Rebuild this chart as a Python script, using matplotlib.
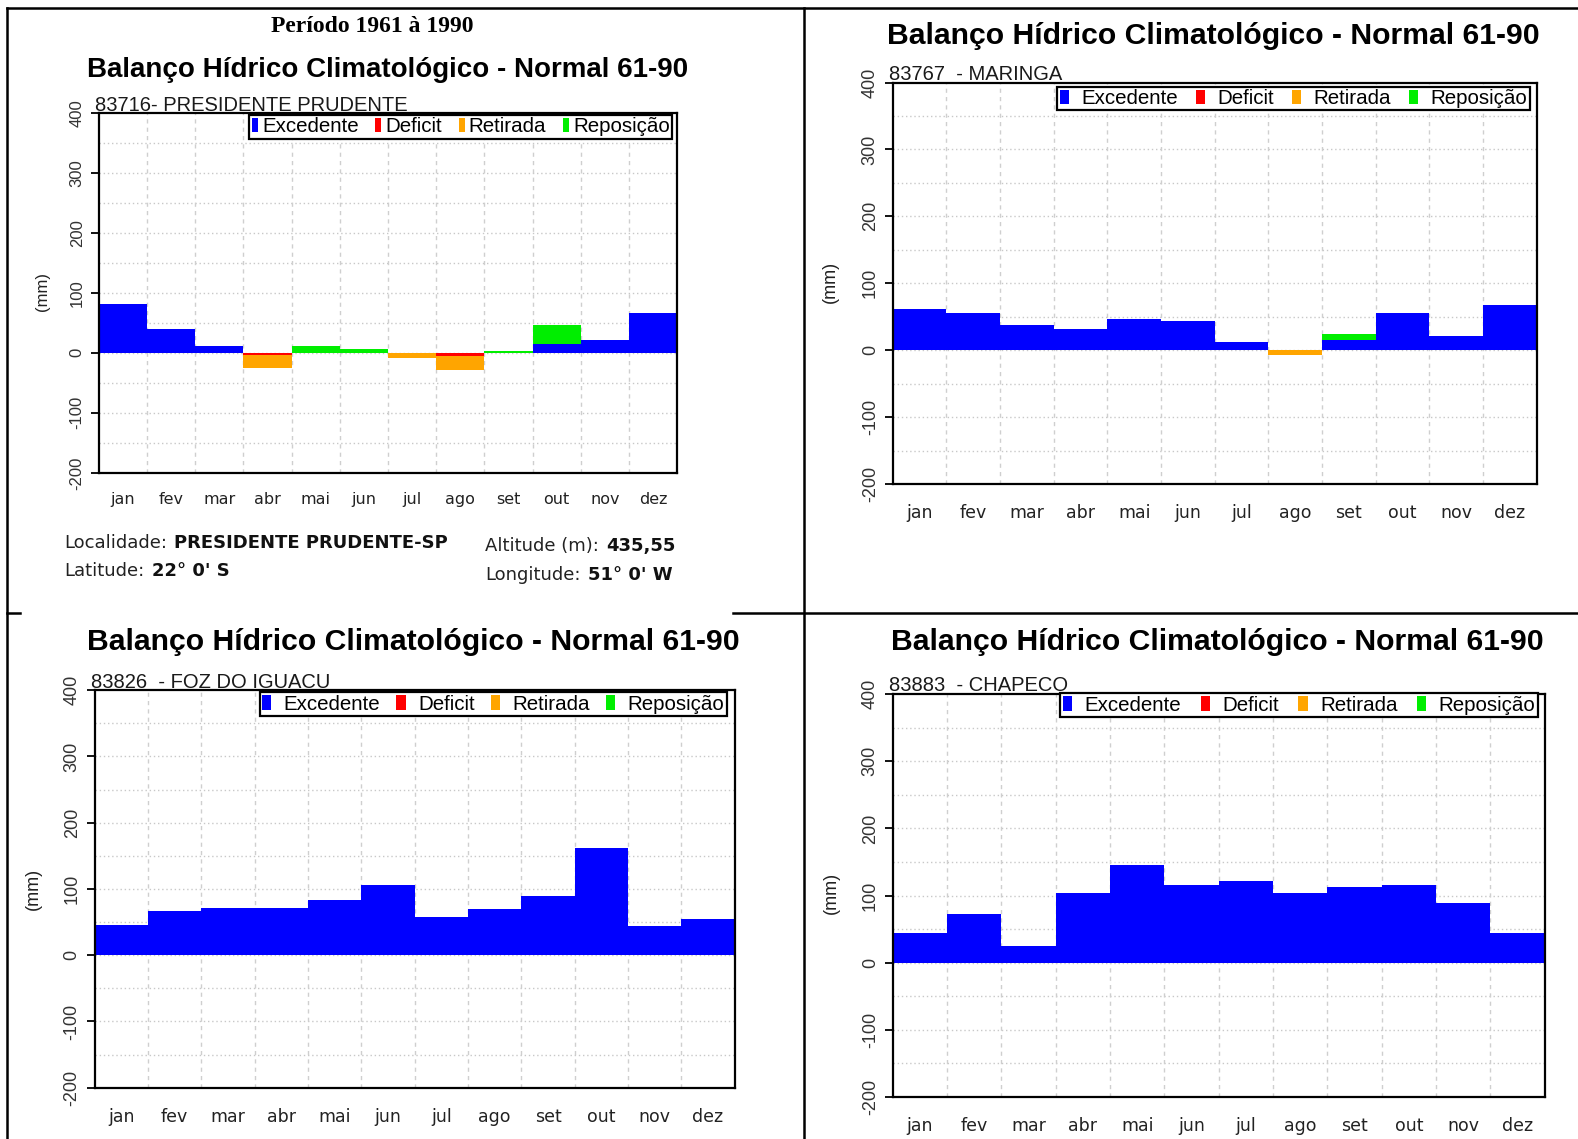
import numpy as np
import matplotlib; matplotlib.use('Agg')
import matplotlib.pyplot as plt
from matplotlib.patches import Patch
from matplotlib.lines import Line2D

# monthly water balance (mm)
meses = ['jan', 'fev', 'mar', 'abr', 'mai', 'jun', 'jul', 'ago', 'set', 'out', 'nov', 'dez']

pp_exc = [82, 40, 12, 0, 0, 0, 0, 0, 0, 15, 21, 66]
pp_def = [0, 0, 0, -3, 0, 0, 0, -5, 0, 0, 0, 0]
pp_ret = [0, 0, 0, -22, 0, 0, -8, -24, 0, 0, 0, 0]
pp_rep = [0, 0, 0, 0, 12, 6, 0, 0, 3, 32, 0, 0]

mg_exc = [61, 55, 38, 32, 46, 44, 12, 0, 15, 55, 21, 67]
mg_def = [0] * 12
mg_ret = [0, 0, 0, 0, 0, 0, 0, -7.5, 0, 0, 0, 0]
mg_rep = [0, 0, 0, 0, 0, 0, 0, 0, 9, 0, 0, 0]

fz_exc = [46, 67, 72, 72, 84, 106, 58, 70, 90, 162, 44, 55]
ch_exc = [44, 72, 24, 103, 146, 115, 121, 104, 112, 115, 89, 44]
zeros = [0] * 12

legend_labels = ['Excedente', 'Deficit', 'Retirada', 'Reposição']
cores = ['#0000ff', '#ff0000', '#ffa500', '#00ee00']

titulo = 'Balanço Hídrico Climatológico - Normal 61-90'

W, H = 1578, 1139
SX, SY = 1578 / 1568, 1139 / 1132

def fx(x):
    return x * SX / W

def fy(y):
    return 1 - y * SY / H

plt.rcParams['font.family'] = 'Liberation Sans'
fig = plt.figure(figsize=(W / 100, H / 100), dpi=100)

def painel(box, exc, dfc, ret, rep, estacao, k, tpos, spos, mmpos, leg, xly):
    l, t, r, b = box
    ax = fig.add_axes([fx(l), fy(b), fx(r) - fx(l), fy(t) - fy(b)])
    x = np.arange(12) + 0.5
    exc = np.array(exc, float); dfc = np.array(dfc, float)
    ret = np.array(ret, float); rep = np.array(rep, float)
    for yy in range(-150, 400, 50):
        ax.axhline(yy, color='#c8c8c8', lw=1, ls=(0, (1, 2)), zorder=0)
    for xx in range(1, 12):
        ax.axvline(xx, color='#cfcfcf', lw=1, ls=(0, (3, 3)), zorder=0)
    ax.bar(x, exc, width=1, color=cores[0], lw=0, zorder=2)
    ax.bar(x, rep, width=1, bottom=exc, color=cores[3], lw=0, zorder=2)
    ax.bar(x, dfc, width=1, color=cores[1], lw=0, zorder=2)
    ax.bar(x, ret, width=1, bottom=dfc, color=cores[2], lw=0, zorder=2)
    ax.set_xlim(0, 12)
    ax.set_ylim(-200, 400)
    ax.set_yticks(range(-200, 401, 100))
    ax.set_yticklabels([str(v) for v in range(-200, 401, 100)], rotation=90, va='center',
                       fontsize=13 * k, color='#333333')
    ax.set_xticks([])
    ax.tick_params(axis='y', length=6, width=1.3, pad=4)
    for s in ax.spines.values():
        s.set_linewidth(1.6)
    for i, m in enumerate(meses):
        xf = fx(l) + (fx(r) - fx(l)) * x[i] / 12
        fig.text(xf, fy(xly), m, ha='center', va='center', family='DejaVu Sans',
                 fontsize=12.5 * k, color='#222222')
    fig.text(fx(tpos[0]), fy(tpos[1]), titulo, ha='center', va='center',
             fontsize=21.7 * k, fontweight='bold')
    fig.text(fx(spos[0]), fy(spos[1]), estacao, ha='left', va='baseline',
             fontsize=14.5, color='#1a1a1a')
    fig.text(fx(mmpos[0]), fy(mmpos[1]), '(mm)', rotation=90, ha='center', va='center',
             fontsize=13 * k, color='#222222')
    handles = [Patch(facecolor=c, edgecolor='none') for c in cores]
    lg = ax.legend(handles, legend_labels, ncol=4, loc='upper right',
                   bbox_to_anchor=(fx(leg[0]), fy(leg[1])), bbox_transform=fig.transFigure,
                   fancybox=False, edgecolor='black', framealpha=1, fontsize=14.8,
                   borderpad=0.12, handlelength=leg[2], handleheight=0.7,
                   handletextpad=leg[3], columnspacing=leg[4], borderaxespad=0)
    lg.get_frame().set_linewidth(1.6)
    lg.set_zorder(5)
    return ax

painel((98, 112, 673, 470), pp_exc, pp_def, pp_ret, pp_rep, '83716- PRESIDENTE PRUDENTE',
       0.92, (385, 70), (94, 110), (42, 290), (668, 114, 0.3, 0.2, 0.8), 496)
painel((887, 82, 1527, 481), mg_exc, mg_def, mg_ret, mg_rep, '83767  - MARINGA',
       1.0, (1206, 36), (883, 80), (825, 280), (1520, 86, 0.45, 0.6, 0.87), 510)
painel((94, 686, 730, 1081), fz_exc, zeros, zeros, zeros, '83826  - FOZ DO IGUACU',
       1.0, (411, 638), (90, 684), (33, 883), (722, 688, 0.45, 0.6, 0.78), 1110)
painel((887, 690, 1535, 1090), ch_exc, zeros, zeros, zeros, '83883  - CHAPECO',
       1.0, (1210, 638), (883, 687), (826, 887), (1528, 689, 0.45, 0.6, 0.95), 1119)

fig.text(fx(370), fy(26), 'Período 1961 à 1990', ha='center', va='center',
         family='Liberation Serif', fontweight='bold', fontsize=17)

renderer = fig.canvas.get_renderer()

def rich(x, y, normal, bold):
    t = fig.text(fx(x), fy(y), normal, ha='left', va='center', family='DejaVu Sans',
                 fontsize=13, color='#222222')
    bb = t.get_window_extent(renderer)
    fig.text((bb.x1 + 7) / W, fy(y), bold, ha='left', va='center', family='DejaVu Sans',
             fontsize=13, fontweight='bold', color='#111111')

rich(64, 540, 'Localidade:', 'PRESIDENTE PRUDENTE-SP')
rich(64, 567, 'Latitude:', '22° 0\' S')
rich(482, 543, 'Altitude (m):', '435,55')
rich(482, 571, 'Longitude:', '51° 0\' W')

# table borders
def linha(xs, ys):
    fig.add_artist(Line2D([fx(v) for v in xs], [fy(v) for v in ys], color='black',
                          lw=1.8, transform=fig.transFigure))

linha([7, 1568], [8, 8])
linha([7, 7], [8, 1139])
linha([799, 799], [8, 1139])
linha([7, 20], [609, 609])
linha([728, 1568], [609, 609])

fig.savefig('out.png', dpi=100)
